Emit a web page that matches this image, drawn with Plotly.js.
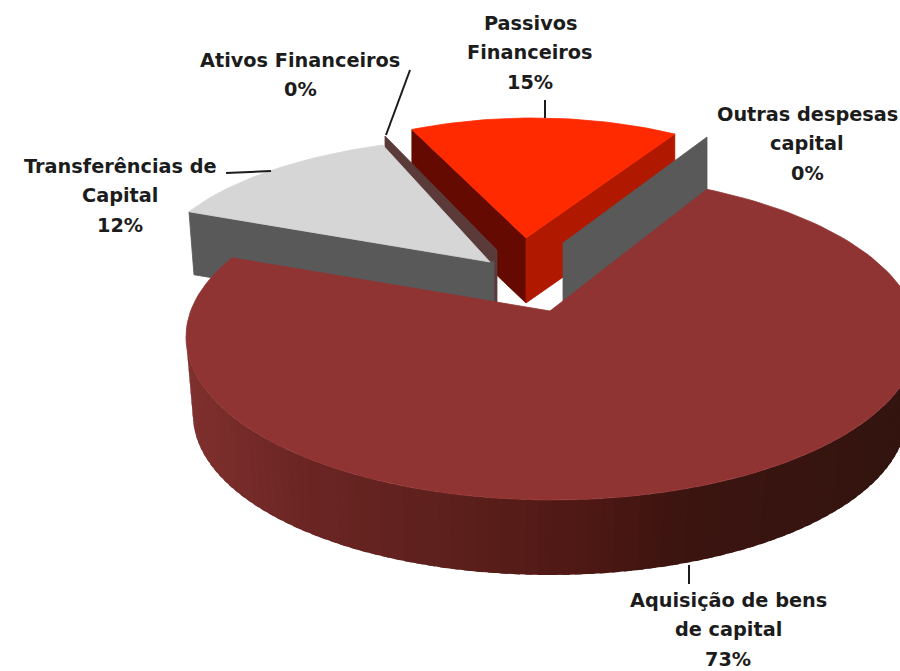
<!DOCTYPE html>
<html>
<head>
<meta charset="utf-8">
<script src="https://cdn.plot.ly/plotly-3.0.1.min.js"></script>
<style>html,body{margin:0;padding:0;background:#fff}#chart{width:900px;height:671px}</style>
</head>
<body>
<div id="chart"></div>
<script>
// ---- data ----
const categories = ['Aquisição de bens de capital', 'Outras despesas capital', 'Passivos Financeiros', 'Ativos Financeiros', 'Transferências de Capital'];
const values = [73, 0, 15, 0, 12];
const labelLines = [
  ['Aquisição de bens', 'de capital'],
  ['Outras despesas', 'capital'],
  ['Passivos', 'Financeiros'],
  ['Ativos Financeiros'],
  ['Transferências de', 'Capital']
];

// ---- styles ----
const topColors = ['#8f3432', '#595959', '#ff2a00', '#5b3a3a', '#d6d6d6'];
const redLeftWall = '#650a00', redRightWall = '#b01800', greyWall = '#595959';
const shadeX = [190, 300, 450, 600, 680, 900];
const shadeRGB = [[127,48,46],[107,38,36],[93,32,28],[77,23,19],[60,20,16],[51,20,15]];

// ---- projected pie geometry: each slice has its own exploded, foreshortened ellipse ----
const geoMain = {cx:552, cy:337, rx:366, ry:163, start:25.06, stretch:1.0426, apex:[550,311]};
const geoRed  = {cx:533, cy:263, rx:310, ry:145, start:-23,  stretch:0.93,  apex:[526,238], depth:65};
const geoGrey = {cx:495, cy:275.5, rx:345, ry:138, start:-62.5,stretch:1.007,  apex:[490,262], depth:63};
const lowerMain = {cx:550, cy:415, rx:357, ry:160};
const rad = Math.PI/180;
const pt = (g,t) => [g.cx + g.rx*Math.sin(t*rad), g.cy - g.ry*Math.cos(t*rad)];
function arc(g,a,b,n){const o=[];for(let i=0;i<=n;i++)o.push(pt(g,a+(b-a)*i/n));return o;}
function poly(points,color,w){
  const p=points.concat([points[0]]);
  return {type:'scatter',mode:'lines',x:p.map(q=>q[0]),y:p.map(q=>q[1]),fill:'toself',fillcolor:color,
          line:{color:color,width:w===undefined?0.8:w},hoverinfo:'skip',showlegend:false};
}
const down=(p,d)=>[p[0],p[1]+d];
const traces=[];

// Passivos Financeiros
const redSpan=values[2]*3.6*geoRed.stretch, redA=geoRed.start, redB=redA+redSpan;
const redL=pt(geoRed,redA), redR=pt(geoRed,redB);
traces.push(poly([redL,geoRed.apex,down(geoRed.apex,geoRed.depth),down(redL,geoRed.depth)],redLeftWall));
traces.push(poly([geoRed.apex,redR,down(redR,geoRed.depth),down(geoRed.apex,geoRed.depth)],redRightWall));
traces.push(poly([geoRed.apex].concat(arc(geoRed,redA,redB,40)),topColors[2]));

// Ativos Financeiros (0% - only its cut face shows)
const ativosRim=[385,136], ativosApex=[497,250];
traces.push(poly([ativosRim,ativosApex,down(ativosApex,60),down(ativosRim,60)],topColors[3]));

// Transferências de Capital
const gA=geoGrey.start, gB=gA+values[4]*3.6*geoGrey.stretch;
const gL=pt(geoGrey,gA);
traces.push(poly([gL,geoGrey.apex,[494,geoGrey.apex[1]],[494,geoGrey.apex[1]+geoGrey.depth],[gL[0]+5,gL[1]+geoGrey.depth]],greyWall));
traces.push(poly([geoGrey.apex].concat(arc(geoGrey,gA,gB,40)),topColors[4]));

// Outras despesas capital (0% - only its cut face shows)
const outrasApex=[563,243], outrasRim=[707,137];
traces.push(poly([outrasApex,outrasRim,down(outrasRim,60),down(outrasApex,60)],topColors[1]));

// Aquisição de bens de capital: side wall bands, then top
function shade(x){
  let i=0; while(i<shadeX.length-2 && x>shadeX[i+1]) i++;
  const f=Math.max(0,Math.min(1,(x-shadeX[i])/(shadeX[i+1]-shadeX[i])));
  const c=shadeRGB[i].map((v,k)=>Math.round(v+(shadeRGB[i+1][k]-v)*f));
  return 'rgb('+c.join(',')+')';
}
const bands=90, overlap=1.2;
for(let i=0;i<bands;i++){
  const a=270-180*i/bands, b=Math.max(90,270-180*(i+1)/bands-overlap);
  const m=(a+b)/2;
  traces.push(poly(arc(geoMain,a,b,3).concat(arc(lowerMain,b,a,3)),shade(pt(geoMain,m)[0]),0));
}
const mA=geoMain.start, mB=mA+values[0]*3.6*geoMain.stretch;
traces.push(poly([geoMain.apex].concat(arc(geoMain,mA,mB,160)),topColors[0]));

// ---- labels ----
const labelX=[728,807,530,300,120];
const labelY=[600,114,23,60,166];
const lineStep=29.7;
const labelSize=19.3;
const annotations=[];
categories.forEach((c,i)=>{
  const lines=labelLines[i].concat([values[i]+'%']);
  lines.forEach((t,k)=>annotations.push({x:labelX[i],y:labelY[i]+k*lineStep,xref:'x',yref:'y',text:'<b>'+t+'</b>',
    showarrow:false,xanchor:'center',yanchor:'middle',
    font:{family:'"DejaVu Sans", sans-serif',size:labelSize,color:'#1c1c1c'}}));
});
const leaders=[[410,70,386,135],[226,173,271,171],[545,100,545,118],[689,565,689,584]];
const shapes=leaders.map(l=>({type:'line',xref:'x',yref:'y',x0:l[0],y0:l[1],x1:l[2],y1:l[3],line:{color:'#1c1c1c',width:2},layer:'above'}));

Plotly.newPlot('chart',traces,{
  width:900,height:671,margin:{l:0,r:0,t:0,b:0},paper_bgcolor:'#fff',plot_bgcolor:'#fff',showlegend:false,
  xaxis:{range:[0,900],visible:false,fixedrange:true},
  yaxis:{range:[671,0],visible:false,fixedrange:true},
  annotations:annotations,shapes:shapes
},{displayModeBar:false,staticPlot:true});
</script>
</body>
</html>
